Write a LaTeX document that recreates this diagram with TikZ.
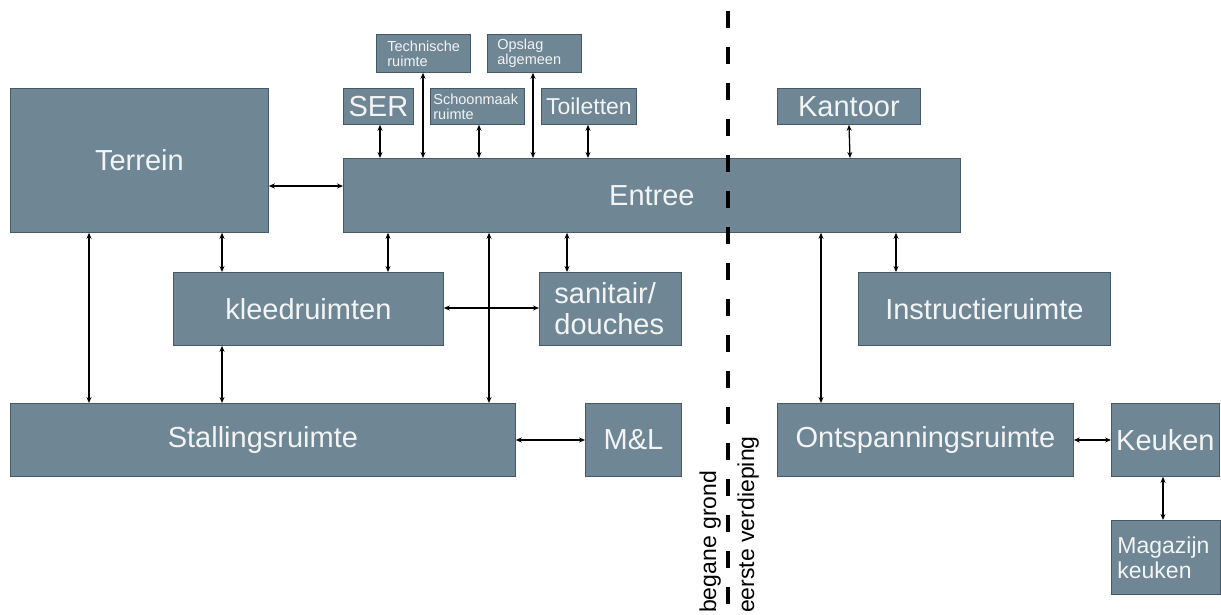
\documentclass[tikz,border=0pt]{standalone}
\usepackage{fontspec}
\setmainfont{Liberation Sans}
\usetikzlibrary{arrows.meta}
\definecolor{boxfill}{RGB}{111,134,149}
\definecolor{boxline}{RGB}{70,88,100}
\definecolor{boxtext}{RGB}{242,244,245}
\tikzset{
  box/.style={draw=boxline, line width=0.8pt, fill=boxfill, text=boxtext,
    anchor=north west, inner sep=1pt, align=center},
  boxl/.style={box, align=left},
  big/.style={font=\fontsize{29}{31}\selectfont},
  mid/.style={font=\fontsize{23}{25}\selectfont},
  small/.style={font=\fontsize{14.5}{15}\selectfont},
  arr/.style={{Stealth[length=6pt,width=5pt]}-{Stealth[length=6pt,width=5pt]}, line width=1.3pt, black},
  floorline/.style={line width=3.6pt, dash pattern=on 17pt off 19pt, black},
  floorlabel/.style={font=\fontsize{23}{25}\selectfont, rotate=90, anchor=south west, inner sep=0pt}
}
\begin{document}
\begin{tikzpicture}[x=1pt,y=-1pt]
\useasboundingbox (0,0) rectangle (1221,615);
% boxes: corners (x1,y1)-(x2,y2)
\node[box,big,minimum width=258pt,minimum height=144pt] (terrein) at (10,88) {Terrein};
\node[box,big,minimum width=617pt,minimum height=74pt] (entree) at (343,158) {Entree};
\node[box,big,minimum width=70pt,minimum height=36pt] (ser) at (343,88) {SER};
\node[boxl,small,minimum width=94pt,minimum height=38pt,text width=72pt] (tech) at (376,34) {Technische\\ruimte};
\node[boxl,small,minimum width=94pt,minimum height=36pt,text width=88pt] (schoon) at (430,88) {Schoonmaak\\ruimte};
\node[boxl,small,minimum width=94pt,minimum height=38pt,text width=74pt] (opslag) at (487,34) {Opslag\\algemeen};
\node[box,mid,minimum width=95pt,minimum height=36pt] (toil) at (541,88) {Toiletten};
\node[box,big,minimum width=143pt,minimum height=36pt] (kantoor) at (777,88) {Kantoor};
\node[box,big,minimum width=270pt,minimum height=73pt] (kleed) at (173,272) {kleedruimten};
\node[boxl,big,minimum width=142pt,minimum height=73pt,text width=112pt] (sanit) at (539,272) {sanitair/\\douches};
\node[box,big,minimum width=252pt,minimum height=73pt] (instr) at (858,272) {Instructieruimte};
\node[box,big,minimum width=505pt,minimum height=73pt] (stall) at (10,403) {Stallingsruimte};
\node[box,big,minimum width=96pt,minimum height=73pt] (ml) at (585,403) {M\&L};
\node[box,big,minimum width=296pt,minimum height=73pt] (ontsp) at (777,403) {Ontspanningsruimte};
\node[box,big,minimum width=108pt,minimum height=73pt,inner sep=0pt] (keuken) at (1111,403) {Keuken};
\node[boxl,mid,minimum width=109pt,minimum height=74pt,text width=97pt] (magazijn) at (1111,520) {Magazijn\\keuken};
% connectors
\draw[arr] (terrein.east |- 0,186) coordinate (a1) -- (entree.west |- a1);
\draw[arr] ([xshift=79pt]terrein.south west) -- ([xshift=79pt]stall.north west);
\draw[arr] ([xshift=212pt]terrein.south west) -- ([xshift=49pt]kleed.north west);
\draw[arr] ([xshift=49pt]kleed.south west) -- ([xshift=212pt]stall.north west);
\draw[arr] ([xshift=45pt]entree.south west) -- ([xshift=215pt]kleed.north west);
\draw[arr] ([xshift=146pt]entree.south west) -- ([xshift=479pt]stall.north west);
\draw[arr] ([xshift=224pt]entree.south west) -- ([xshift=28pt]sanit.north west);
\draw[arr] (kleed.east |- 0,308) coordinate (a2) -- (sanit.west |- a2);
\draw[arr] ([xshift=478pt]entree.south west) -- ([xshift=44pt]ontsp.north west);
\draw[arr] ([xshift=553pt]entree.south west) -- ([xshift=38pt]instr.north west);
\draw[arr] ([xshift=72pt]kantoor.south west) -- ([xshift=507pt]entree.north west);
\draw[arr] ([xshift=37pt]ser.south west) -- ([xshift=37pt]entree.north west);
\draw[arr] ([xshift=47pt]tech.south west) -- ([xshift=80pt]entree.north west);
\draw[arr] ([xshift=49pt]schoon.south west) -- ([xshift=136pt]entree.north west);
\draw[arr] ([xshift=46pt]opslag.south west) -- ([xshift=190pt]entree.north west);
\draw[arr] ([xshift=47pt]toil.south west) -- ([xshift=245pt]entree.north west);
\draw[arr] (stall.east |- 0,440) coordinate (a3) -- (ml.west |- a3);
\draw[arr] (ontsp.east |- 0,440) coordinate (a4) -- (keuken.west |- a4);
\draw[arr] ([xshift=52pt]keuken.south west) -- ([xshift=52pt]magazijn.north west);
% floor separation
\coordinate (ftop) at (728,11);
\coordinate (fbot) at (728,615);
\draw[floorline] (ftop) -- (fbot);
\node[floorlabel] (begane) at (721,613) {begane grond};
\node[floorlabel] (eerste) at (759,613) {eerste verdieping};
\end{tikzpicture}
\end{document}
